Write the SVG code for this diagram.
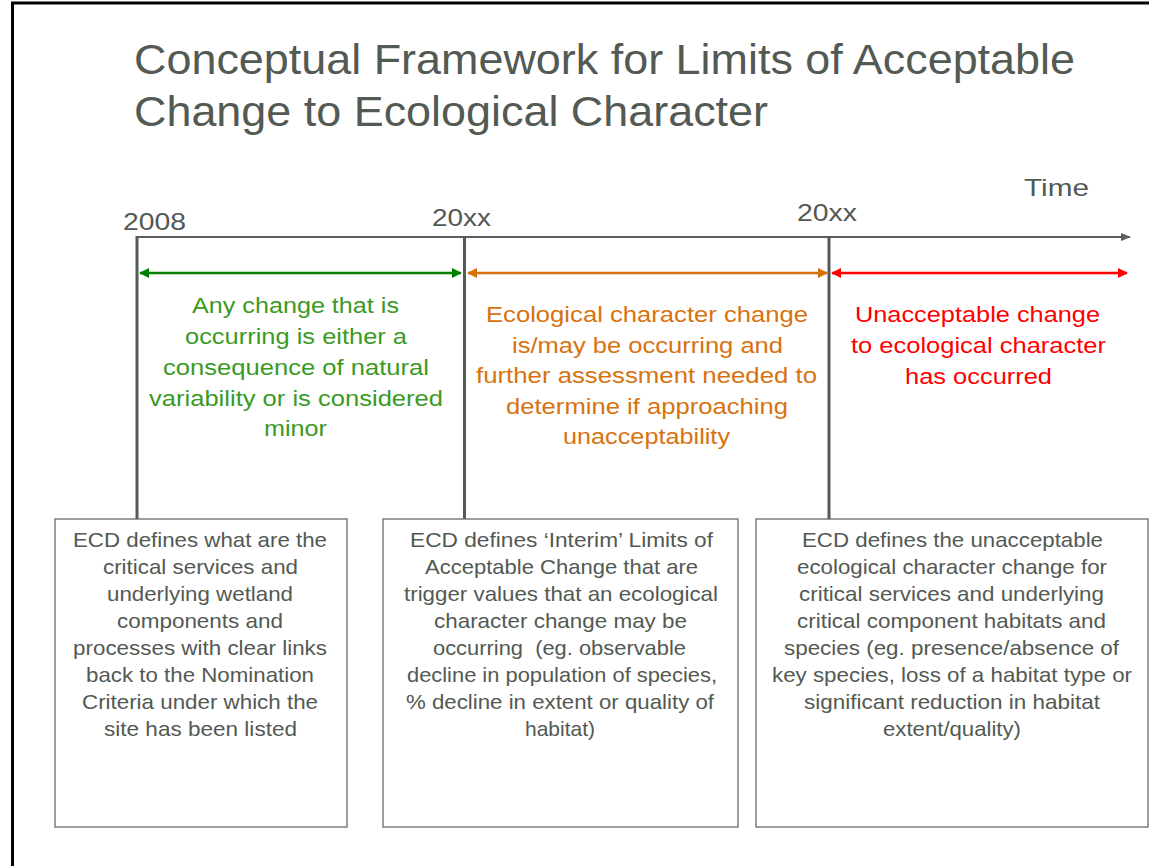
<svg xmlns="http://www.w3.org/2000/svg" width="1149" height="866" viewBox="0 0 1149 866">
  <style>
    text { font-family: "Liberation Sans", Arial, sans-serif; }
    .title { font-size: 42px; fill: #535953; }
    .year { font-size: 24px; fill: #535953; }
    .band { font-size: 22.5px; text-anchor: middle; }
    .green { fill: #3a9a24; }
    .orange { fill: #d8720f; }
    .red { fill: #ff0000; }
    .box rect { fill: #ffffff; stroke: #666a66; stroke-width: 1.3; }
    .box text { font-size: 21px; fill: #535953; text-anchor: middle; }
    .axis { stroke: #5a5f5a; stroke-width: 2; fill: none; }
    .tick { stroke: #555a55; stroke-width: 3; }
  </style>
  <defs>
    <marker id="axisHead" viewBox="0 0 10 10" refX="9" refY="5" markerWidth="5" markerHeight="5" orient="auto" markerUnits="strokeWidth">
      <path d="M0,1 L10,5 L0,9 z" fill="#5a5f5a"/>
    </marker>
    <marker id="gHead" viewBox="0 0 10 10" refX="9" refY="5" markerWidth="4" markerHeight="4" orient="auto-start-reverse" markerUnits="strokeWidth">
      <path d="M0,0 L10,5 L0,10 z" fill="#008000"/>
    </marker>
    <marker id="oHead" viewBox="0 0 10 10" refX="9" refY="5" markerWidth="4" markerHeight="4" orient="auto-start-reverse" markerUnits="strokeWidth">
      <path d="M0,0 L10,5 L0,10 z" fill="#d5700a"/>
    </marker>
    <marker id="rHead" viewBox="0 0 10 10" refX="9" refY="5" markerWidth="4" markerHeight="4" orient="auto-start-reverse" markerUnits="strokeWidth">
      <path d="M0,0 L10,5 L0,10 z" fill="#ff0000"/>
    </marker>
  </defs>

  <rect width="1149" height="866" fill="#ffffff"/>
  <!-- slide frame -->
  <line x1="11" y1="3" x2="1149" y2="3" stroke="#000" stroke-width="3"/>
  <line x1="12.5" y1="2" x2="12.5" y2="866" stroke="#000" stroke-width="3"/>

  <!-- title -->
  <text class="title" x="134" y="74" textLength="941" lengthAdjust="spacingAndGlyphs">Conceptual Framework for Limits of Acceptable</text>
  <text class="title" x="134" y="126" textLength="634" lengthAdjust="spacingAndGlyphs">Change to Ecological Character</text>

  <!-- time axis labels -->
  <text class="year" x="1024" y="196" textLength="65" lengthAdjust="spacingAndGlyphs">Time</text>
  <text class="year" x="123" y="230" textLength="63" lengthAdjust="spacingAndGlyphs">2008</text>
  <text class="year" x="432" y="226" textLength="59" lengthAdjust="spacingAndGlyphs">20xx</text>
  <text class="year" x="797" y="221" textLength="60" lengthAdjust="spacingAndGlyphs">20xx</text>

  <g id="connectors">
    <line class="axis" x1="137" y1="237" x2="1130" y2="237" marker-end="url(#axisHead)"/>
    <line class="tick" x1="137" y1="236" x2="137" y2="519"/>
    <line class="tick" x1="464.5" y1="237" x2="464.5" y2="519"/>
    <line class="tick" x1="829" y1="237" x2="829" y2="519"/>
    <line x1="140" y1="273" x2="461" y2="273" stroke="#008000" stroke-width="2.5" marker-start="url(#gHead)" marker-end="url(#gHead)"/>
    <line x1="468" y1="273" x2="827" y2="273" stroke="#d5700a" stroke-width="2.5" marker-start="url(#oHead)" marker-end="url(#oHead)"/>
    <line x1="832" y1="273" x2="1127" y2="273" stroke="#ff0000" stroke-width="2.5" marker-start="url(#rHead)" marker-end="url(#rHead)"/>
  </g>

  <!-- period descriptions -->
  <g id="band-green">
    <text class="band green" x="295.5" y="313" textLength="207" lengthAdjust="spacingAndGlyphs">Any change that is</text>
    <text class="band green" x="296" y="344" textLength="222" lengthAdjust="spacingAndGlyphs">occurring is either a</text>
    <text class="band green" x="296" y="375" textLength="266" lengthAdjust="spacingAndGlyphs">consequence of natural</text>
    <text class="band green" x="296" y="406" textLength="294" lengthAdjust="spacingAndGlyphs">variability or is considered</text>
    <text class="band green" x="295.5" y="436" textLength="63" lengthAdjust="spacingAndGlyphs">minor</text>
  </g>
  <g id="band-orange">
    <text class="band orange" x="647" y="322" textLength="322" lengthAdjust="spacingAndGlyphs">Ecological character change</text>
    <text class="band orange" x="647.5" y="353" textLength="271" lengthAdjust="spacingAndGlyphs">is/may be occurring and</text>
    <text class="band orange" x="646.5" y="383" textLength="341" lengthAdjust="spacingAndGlyphs">further assessment needed to</text>
    <text class="band orange" x="647" y="414" textLength="282" lengthAdjust="spacingAndGlyphs">determine if approaching</text>
    <text class="band orange" x="646.5" y="444" textLength="167" lengthAdjust="spacingAndGlyphs">unacceptability</text>
  </g>
  <g id="band-red">
    <text class="band red" x="977.5" y="322" textLength="245" lengthAdjust="spacingAndGlyphs">Unacceptable change</text>
    <text class="band red" x="978.5" y="353" textLength="255" lengthAdjust="spacingAndGlyphs">to ecological character</text>
    <text class="band red" x="978.5" y="384" textLength="147" lengthAdjust="spacingAndGlyphs">has occurred</text>
  </g>

  <!-- ECD definition boxes -->
  <g id="box-baseline" class="box">
    <rect x="55" y="519" width="292" height="308"/>
    <text x="200" y="547" textLength="254" lengthAdjust="spacingAndGlyphs">ECD defines what are the</text>
    <text x="200.5" y="574" textLength="195" lengthAdjust="spacingAndGlyphs">critical services and</text>
    <text x="200" y="601" textLength="186" lengthAdjust="spacingAndGlyphs">underlying wetland</text>
    <text x="200" y="628" textLength="166" lengthAdjust="spacingAndGlyphs">components and</text>
    <text x="200" y="655" textLength="254" lengthAdjust="spacingAndGlyphs">processes with clear links</text>
    <text x="200" y="682" textLength="228" lengthAdjust="spacingAndGlyphs">back to the Nomination</text>
    <text x="200" y="709" textLength="236" lengthAdjust="spacingAndGlyphs">Criteria under which the</text>
    <text x="200.5" y="736" textLength="193" lengthAdjust="spacingAndGlyphs">site has been listed</text>
  </g>
  <g id="box-interim" class="box">
    <rect x="383" y="519" width="355" height="308"/>
    <text x="561.5" y="547" textLength="303" lengthAdjust="spacingAndGlyphs">ECD defines ‘Interim’ Limits of</text>
    <text x="561.5" y="574" textLength="273" lengthAdjust="spacingAndGlyphs">Acceptable Change that are</text>
    <text x="561" y="601" textLength="314" lengthAdjust="spacingAndGlyphs">trigger values that an ecological</text>
    <text x="560.5" y="628" textLength="253" lengthAdjust="spacingAndGlyphs">character change may be</text>
    <text x="559.5" y="655" textLength="253" lengthAdjust="spacingAndGlyphs" style="white-space: pre">occurring  (eg. observable</text>
    <text x="562" y="682" textLength="310" lengthAdjust="spacingAndGlyphs">decline in population of species,</text>
    <text x="560" y="709" textLength="308" lengthAdjust="spacingAndGlyphs">% decline in extent or quality of</text>
    <text x="560" y="736" textLength="70" lengthAdjust="spacingAndGlyphs">habitat)</text>
  </g>
  <g id="box-unacceptable" class="box">
    <rect x="756" y="519" width="392" height="308"/>
    <text x="952.5" y="547" textLength="301" lengthAdjust="spacingAndGlyphs">ECD defines the unacceptable</text>
    <text x="952" y="574" textLength="310" lengthAdjust="spacingAndGlyphs">ecological character change for</text>
    <text x="951.5" y="601" textLength="305" lengthAdjust="spacingAndGlyphs">critical services and underlying</text>
    <text x="951.5" y="628" textLength="309" lengthAdjust="spacingAndGlyphs">critical component habitats and</text>
    <text x="951.5" y="655" textLength="335" lengthAdjust="spacingAndGlyphs">species (eg. presence/absence of</text>
    <text x="952" y="682" textLength="360" lengthAdjust="spacingAndGlyphs">key species, loss of a habitat type or</text>
    <text x="952" y="709" textLength="296" lengthAdjust="spacingAndGlyphs">significant reduction in habitat</text>
    <text x="952" y="736" textLength="138" lengthAdjust="spacingAndGlyphs">extent/quality)</text>
  </g>
</svg>
